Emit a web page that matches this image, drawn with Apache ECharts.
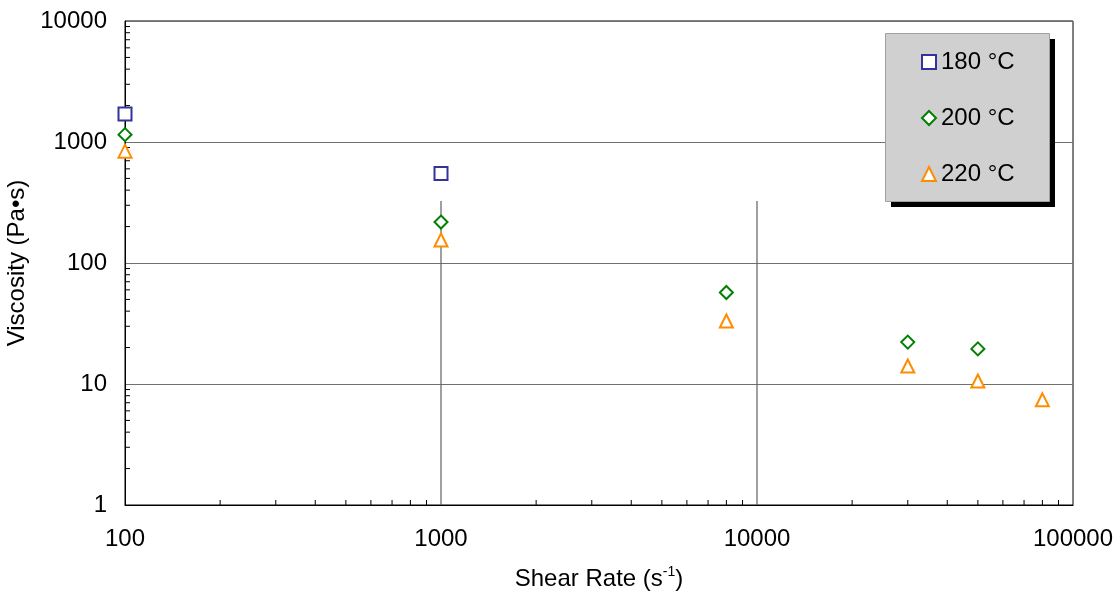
<!DOCTYPE html>
<html>
<head>
<meta charset="utf-8">
<script src="https://cdn.jsdelivr.net/npm/echarts@6/dist/echarts.min.js"></script>
<style>
html,body{margin:0;padding:0;background:#fff;}
#chart{width:1115px;height:594px;}
</style>
</head>
<body>
<div id="chart"></div>
<script>
// Data
const shearRate180 = [100, 1000];
const visc180 = [1700, 550];
const shearRate200 = [100, 1000, 8000, 30000, 50000];
const visc200 = [1150, 218, 57, 22.2, 19.5];
const shearRate220 = [100, 1000, 8000, 30000, 50000, 80000];
const visc220 = [840, 155, 33.2, 14.1, 10.6, 7.4];
const seriesNames = ['180 °C', '200 °C', '220 °C'];
const xMinor = [200,300,400,500,600,700,800,900,2000,3000,4000,5000,6000,7000,8000,9000,20000,30000,40000,50000,60000,70000,80000,90000];
const yMinor = [2,3,4,5,6,7,8,9,20,30,40,50,60,70,80,90,200,300,400,500,600,700,800,900,2000,3000,4000,5000,6000,7000,8000,9000];
const vGridX = [1000, 10000];
const vGridTopValue = 325;

const FONT = '"Liberation Sans", Arial, sans-serif';
const FS = 24;
const pair = (xs, ys) => xs.map((x, i) => [x, ys[i]]);
const plain = v => String(Math.round(v));

const chart = echarts.init(document.getElementById('chart'), null, {renderer: 'canvas'});

function markerSeries(name, xs, ys, symbol, color) {
  return {
    name: name,
    type: 'scatter',
    data: pair(xs, ys),
    symbol: symbol,
    symbolSize: 13,
    itemStyle: {color: '#ffffff', borderColor: color, borderWidth: 2, opacity: 1},
    emphasis: {disabled: true},
    z: 5
  };
}

const option = {
  animation: false,
  backgroundColor: '#ffffff',
  textStyle: {fontFamily: FONT},
  grid: {
    left: 125, right: 42, top: 21, bottom: 89,
    outerBoundsMode: 'none', containLabel: false,
    show: true, borderColor: '#000', borderWidth: 1, backgroundColor: 'transparent'
  },
  graphic: [
    {type: 'rect', left: 891, top: 39, z: 90, silent: true,
     shape: {width: 164, height: 168}, style: {fill: '#000'}},
    {type: 'rect', left: 885, top: 33, z: 91, silent: true,
     shape: {width: 164, height: 168}, style: {fill: '#d0d0d0', stroke: '#a0a0a0', lineWidth: 1}}
  ],
  xAxis: {
    type: 'log', logBase: 10, min: 100, max: 100000,
    name: 'Shear Rate (s{sup|-1})',
    nameLocation: 'middle', nameGap: 60,
    nameTextStyle: {
      fontFamily: FONT, fontSize: FS, color: '#000',
      rich: {sup: {fontFamily: FONT, fontSize: 14, color: '#000', padding: [0, 0, 14, 0]}}
    },
    axisLine: {show: true, lineStyle: {color: '#000', width: 1}},
    axisTick: {show: false},
    splitLine: {show: false},
    axisLabel: {fontFamily: FONT, fontSize: FS, color: '#000', margin: 22, formatter: plain}
  },
  yAxis: {
    type: 'log', logBase: 10, min: 1, max: 10000,
    name: 'Viscosity (Pa•s)',
    nameLocation: 'middle', nameGap: 89,
    nameTextStyle: {fontFamily: FONT, fontSize: FS, color: '#000'},
    axisLine: {show: true, lineStyle: {color: '#000', width: 1}},
    axisTick: {show: false},
    splitLine: {show: true, lineStyle: {color: '#707070', width: 1.2}},
    axisLabel: {fontFamily: FONT, fontSize: FS, color: '#000', margin: 18, formatter: plain}
  },
  legend: {
    data: seriesNames,
    orient: 'vertical',
    left: 885, top: 33,
    padding: [17, 34, 17, 36],
    itemGap: 32,
    itemWidth: 14, itemHeight: 14,
    itemTextGap: 7,
    z: 95,
    textStyle: {fontFamily: FONT, fontSize: FS, color: '#000', lineHeight: 24},
    selectedMode: false
  },
  series: [
    {
      name: 'vgrid', type: 'custom', silent: true, z: 1,
      data: vGridX.map(x => [x, 1]),
      renderItem: function (params, api) {
        const p0 = api.coord([api.value(0), 1]);
        const p1 = api.coord([api.value(0), vGridTopValue]);
        return {type: 'line', shape: {x1: p0[0], y1: p0[1], x2: p1[0], y2: p1[1]},
          style: {stroke: '#606060', lineWidth: 1.2}};
      }
    },
    {
      name: 'xminor', type: 'custom', silent: true, z: 3,
      data: xMinor.map(x => [x, 1]),
      renderItem: function (params, api) {
        const p = api.coord([api.value(0), 1]);
        return {type: 'line', shape: {x1: p[0], y1: p[1], x2: p[0], y2: p[1] - 5},
          style: {stroke: '#000', lineWidth: 1}};
      }
    },
    {
      name: 'yminor', type: 'custom', silent: true, z: 3,
      data: yMinor.map(y => [100, y]),
      renderItem: function (params, api) {
        const p = api.coord([100, api.value(1)]);
        return {type: 'line', shape: {x1: p[0], y1: p[1], x2: p[0] + 5, y2: p[1]},
          style: {stroke: '#000', lineWidth: 1}};
      }
    },
    markerSeries(seriesNames[0], shearRate180, visc180, 'rect', '#333399'),
    markerSeries(seriesNames[1], shearRate200, visc200, 'diamond', '#008000'),
    markerSeries(seriesNames[2], shearRate220, visc220, 'triangle', '#ff8c00')
  ]
};
chart.setOption(option);
</script>
</body>
</html>
